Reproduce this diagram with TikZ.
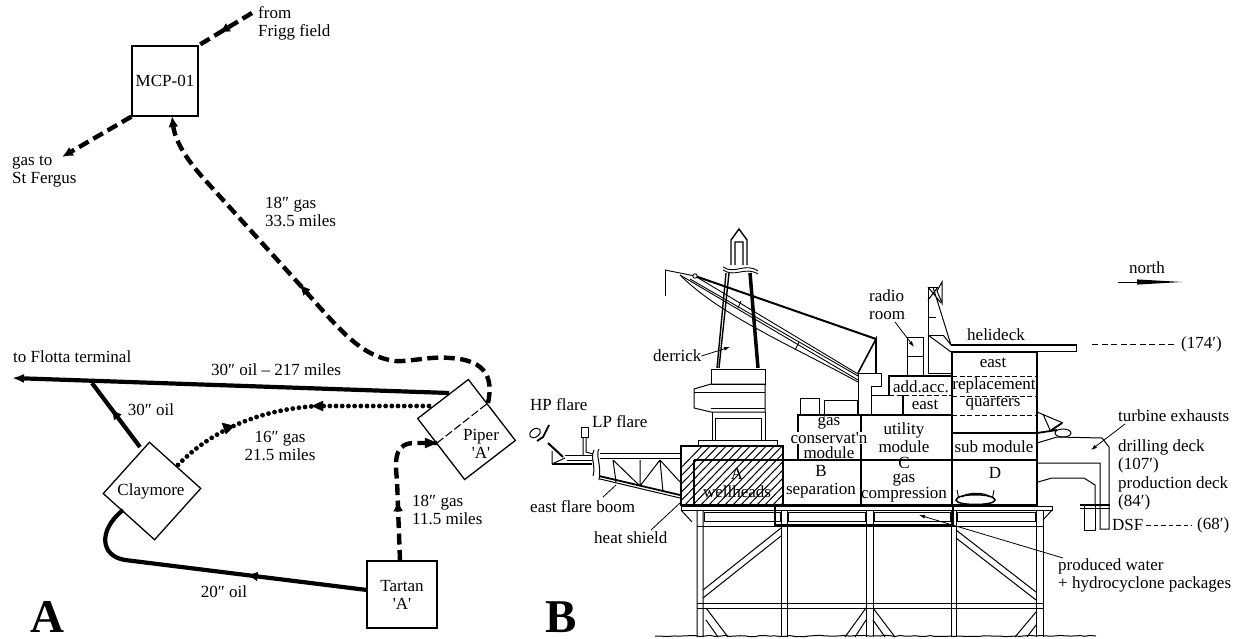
\documentclass[tikz,border=0pt]{standalone}
\usepackage{fontspec}
\setmainfont{Liberation Serif}
\usetikzlibrary{arrows.meta,decorations.markings,decorations.pathmorphing}
\tikzset{
  lbl/.style={inner sep=0pt,align=center,font=\fontsize{17}{18}\selectfont},
  lbll/.style={inner sep=0pt,align=left,anchor=west,font=\fontsize{17}{18}\selectfont},
  big/.style={inner sep=0pt,font=\fontsize{47}{47}\selectfont\bfseries},
  stn/.style={draw,line width=1.3pt,inner sep=0pt,font=\fontsize{17}{18}\selectfont,align=center},
  oilpipe/.style={line width=4.2pt},
  gaspipe/.style={line width=4.4pt,dash pattern=on 11pt off 5.5pt},
  dotpipe/.style={line width=4.8pt,line cap=round,dash pattern=on 0pt off 6.2pt},
  tip/.style={decoration={markings,mark=at position #1 with {\arrow{Latex[length=11pt,width=10pt]}}},postaction={decorate}},
  thin line/.style={line width=1pt},
  mod/.style={line width=1.5pt},
  lead/.style={line width=.8pt},
  leadtip/.style={line width=.8pt,-{Latex[length=6pt,width=4pt]}}
}
\begin{document}
\begin{tikzpicture}[x=1pt,y=-1pt]
\useasboundingbox (0,0) rectangle (1237,639);
%%% PANEL A
\node[stn,minimum width=66pt,minimum height=70pt] (mcp) at (165,81) {MCP-01};
\node[stn,minimum width=69pt,minimum height=69pt,rotate=-42] (clay) at (152,491) {};
\node[lbl] (clayt) at (151,491) {Claymore};
\node[stn,minimum width=77pt,minimum height=64pt,rotate=-52.4] (piper) at (466.5,429.5) {};
\node[lbl] (pipert) at (481,444) {Piper\\\textquotesingle A\textquotesingle};
\node[stn,minimum width=70pt,minimum height=67pt] (tartan) at (402,594.5) {Tartan\\\textquotesingle A\textquotesingle};
\coordinate (frigg) at (252,13);
\coordinate (fergus) at (62,157);
\coordinate (flotta) at (12,378);
\coordinate (junc) at (92,383);
\coordinate (pipeA) at (449,393);
\coordinate (pipeB) at (433,406);
\coordinate (pipeC) at (437,443);
\coordinate (pipeD) at (488,403);
\coordinate (clayA) at (140,447);
\coordinate (clayB) at (178,465);
\coordinate (clayC) at (123,510);
\coordinate (tartW) at (367,590);
\coordinate (tartN) at (400,561);
\draw[gaspipe,tip=.62] (frigg) -- (mcp.north east);
\draw[gaspipe,-{Latex[length=11pt,width=10pt]}] (mcp.south west) -- (fergus);
\draw[gaspipe,tip=.54,-{Latex[length=11pt,width=10pt]}] (pipeD) .. controls (493,380) and (488,360) .. (450,358) .. controls (430,356) and (410,362) .. (395,361) .. controls (360,356) and (340,330) .. (300,285) -- (205,180) .. controls (185,158) and (175,140) .. (172,116);
\draw[oilpipe,-{Latex[length=12pt,width=9pt]}] (pipeA) -- (flotta);
\draw[oilpipe,tip=.6] (clayA) -- (junc);
\draw[dotpipe] (clayB) .. controls (205,437) and (250,410) .. (317,406) -- (pipeB);
\draw[fill] (312,406) -- (323,401) -- (323,411) -- cycle;
\draw[fill] (234,426) -- (222,423) -- (226,434) -- cycle;
\draw[gaspipe,tip=.4] (tartN) -- (397,480) .. controls (394,455) and (397,443) .. (415,443) -- (pipeC);
\draw[fill] (437,443) -- (425,438) -- (425,448) -- cycle;
\draw[line width=1.1pt,dash pattern=on 8pt off 3pt] (pipeC) -- (pipeD);
\draw[oilpipe,tip=.39] (tartW) -- (125,560) .. controls (100,556) and (98,530) .. (clayC);
\node[lbll] (t1) at (258,23) {from\\Frigg field};
\node[lbll] (t2) at (12,172) {gas to\\St Fergus};
\node[lbll] (t3) at (265,212) {18″ gas\\33.5 miles};
\node[lbll] (t4) at (13,357) {to Flotta terminal};
\node[lbl] (t5) at (276,370) {30″ oil -- 217 miles};
\node[lbl] (t6) at (151,410) {30″ oil};
\node[lbl] (t7) at (280,446) {16″ gas\\21.5 miles};
\node[lbll] (t8) at (412,510) {18″ gas\\11.5 miles};
\node[lbl] (t9) at (224,592) {20″ oil};
\node[big] (bigA) at (47,617) {A};
\node[big] (bigB) at (561,617) {B};
%%% PANEL B hatching
\begin{scope}
\clip (681,446) rectangle (783,505);
\foreach \h in {0,8,...,180} \draw[line width=1pt] (640+\h,510) -- (640+\h+68,440);
\end{scope}
%%% substructure
\begin{scope}[thin line]
\draw (681,506) rectangle (1052,510);
\draw (681,510) -- (692,522) (697,510) -- (697,637) (703,510) -- (703,637);
\draw (781,510) -- (781,637) (787,510) -- (787,637) (866,510) -- (866,637) (873,510) -- (873,637);
\draw (951,510) -- (951,637) (956,510) -- (956,637) (1036,510) -- (1036,637) (1043,510) -- (1043,637);
\draw (1052,510) -- (1043,520);
\foreach \a/\b in {703/781,787/866,873/951,956/1036} {
 \draw (\a+1,512) rectangle (\b-1,521);
 \draw (\a,526) -- (\b,526) (\a,603) -- (\b,603) (\a,608) -- (\b,608);
}
\draw (697,526) -- (703,526) (781,526) -- (787,526) (866,526) -- (873,526) (951,526) -- (956,526) (1036,526) -- (1043,526);
\draw (697,603) -- (703,603) (697,608) -- (703,608) (781,603) -- (787,603) (781,608) -- (787,608) (866,603) -- (873,603) (866,608) -- (873,608) (951,603) -- (956,603) (951,608) -- (956,608) (1036,603) -- (1043,603) (1036,608) -- (1043,608);
% braces
\draw (781,528) -- (703,590) (781,536) -- (703,598);
\draw (956,530) -- (1036,592) (956,538) -- (1036,600);
\draw (706,608) -- (728,637) (706,620) -- (718,637);
\draw (866,608) -- (845,637) (866,620) -- (855,637);
\draw (873,608) -- (895,637) (873,620) -- (885,637);
\draw (1036,612) -- (1015,637) (1036,625) -- (1027,637);
\end{scope}
\draw[mod] (775,505) -- (775,525) -- (953,525) -- (953,505);
\draw[thin line,decorate,decoration={random steps,segment length=5pt,amplitude=.6pt}] (655,636) -- (1096,636);
%%% modules
\begin{scope}[mod]
\draw (681,446) rectangle (783,505);
\draw (694,460) -- (694,505);
\draw (694,460) -- (1036,460);
\draw (694,505) -- (1038,505);
\draw (783,460) -- (783,505) (861,415) -- (861,505) (952,352) -- (952,505) (1037,352) -- (1037,505);
\draw (798,460) -- (798,415) -- (952,415);
\draw (952,433) -- (1037,433) (952,352) -- (1037,352);
\draw (903,395) -- (903,415) (889,395) -- (889,376) -- (952,376);
\end{scope}
\begin{scope}[line width=.9pt,dash pattern=on 5pt off 2.5pt]
\draw (952,376) -- (1037,376) (952,396) -- (1037,396) (952,415) -- (1037,415);
\draw (889,395) -- (952,395);
\end{scope}
%%% helideck
\draw[line width=1.5pt] (951,345) -- (1077,345);
\draw[thin line] (951,351) -- (1076,351) -- (1076,345);
\draw[thin line,dash pattern=on 6pt off 3.5pt] (1092,344) -- (1177,344);
%%% upper small blocks
\begin{scope}[thin line]
\draw (800,415) -- (800,398) -- (819,398) -- (819,415);
\draw (824,415) -- (824,400) -- (857,400) -- (857,415);
\draw (858,415) -- (858,373) -- (881,373) -- (881,386) -- (871,386) -- (871,415);
\draw (871,395) -- (889,395);
\draw (907,376) -- (907,337) -- (923,337) -- (923,376) (907,356) -- (923,356);
% mast
\draw (928,287) -- (928,373) -- (951,373) (928,287) -- (937,287) (928,335) -- (943,335) (928,317) -- (936,317);
\draw (933,287) -- (951,345) (928,287) -- (941,303) (928,300) -- (938,287);
\draw (937,291) -- (942,282) -- (942,303) -- cycle;
\draw (928,335) -- (951,352) (943,335) -- (951,345);
\end{scope}
%%% crane
\draw[line width=2pt] (695,276) -- (876,339);
\draw[line width=1.6pt] (858,373) -- (876,339) -- (876,373);
\draw[line width=.9pt] (665,270) -- (695,276);
\draw[line width=.9pt] (665,270) -- (665,296);
\draw[line width=.9pt] (680,275) -- (858,380) (690,279) -- (858,376) (695,276) -- (858,374);
\draw[line width=.9pt] (680,275) .. controls (720,315) and (790,345) .. (858,382);
\draw[line width=.9pt] (738,308) -- (741,301) (795,350) -- (799,342);
\draw[line width=.9pt,fill=white] (695,276) circle (2.2pt);
%%% derrick
\draw[line width=1.4pt] (726,273) -- (717,368) (729,273) -- (719,368);
\draw[line width=3.5pt] (750,273) -- (758,368);
\draw[line width=1.4pt] (731,265) -- (731,240) -- (739,229) -- (747,240) -- (747,265) (735,265) -- (735,242) -- (743,242) -- (743,265);
\draw[line width=.9pt] (723,267) .. controls (735,275) and (745,262) .. (758,271);
\draw[line width=.9pt] (723,270) .. controls (735,278) and (745,266) .. (758,274);
\draw[thin line] (711,384) rectangle (765,369);
\draw[thin line] (765,384) -- (711,384) -- (694,389) -- (694,408) -- (711,412) -- (765,412) -- (765,384);
\draw[thin line] (694,392) -- (765,392) (711,408) -- (765,408);
\draw[thin line] (712,412) -- (712,440) (765,412) -- (765,440) (715,440) -- (715,418) -- (761,418) -- (761,440);
\draw[thin line] (698,446) -- (698,440) -- (777,440) -- (777,446);
%%% flare boom
\begin{scope}[thin line]
\draw (600,453) -- (681,453) (600,458) -- (681,458);
\draw (599,449) .. controls (595,455) and (602,465) .. (599,480);
\draw (594,450) .. controls (590,458) and (596,465) .. (593,476);
\draw[line width=2pt] (552,464) -- (592,464);
\draw (565,455) -- (593,455) (567,460) -- (593,460);
\draw (552,464) -- (552,451) (552,464) -- (565,458);
\draw (581,427) rectangle (588,437);
\draw (583,437) -- (583,455) (586,437) -- (586,452) -- (593,454);
\draw[line width=2pt] (548,443) -- (563,457);
\draw[line width=1.8pt] (537,441) -- (543,437) -- (549,425);
\draw[fill=white,rotate around={35:(535,433)}] (535,433) ellipse (6pt and 4pt);
\draw[line width=1.8pt] (599,476) -- (680,495);
\draw (600,479) -- (680,498);
\draw (613,460) -- (616,482) (613,460) -- (640,486) (640,486) -- (640,460) (640,486) -- (660,460) (660,460) -- (663,492) (660,460) -- (680,482);
\end{scope}
%%% exhausts
\begin{scope}[thin line]
\draw (1037,412) -- (1063,423) (1043,414) -- (1050,430);
\draw[line width=1.8pt] (1037,433) -- (1057,430) (1050,431) -- (1062,423);
\draw (1063,433) ellipse (8pt and 4pt);
\draw (1037,443) -- (1057,437) -- (1102,438) -- (1109,447) -- (1109,529) -- (1100,529) -- (1100,463) -- (1038,463);
\draw (1038,482) -- (1052,478) -- (1084,478) -- (1095,485) -- (1095,505);
\draw (1084,506) -- (1084,530) -- (1095,530) -- (1095,506);
\draw[line width=1.6pt] (1080,505) -- (1110,505);
\draw (1080,508) -- (1110,508);
\draw[line width=.9pt] (959,500) -- (957,490) (992,500) -- (994,490);
\draw[line width=1.5pt,fill=white] (956,500) .. controls (956,493) and (995,493) .. (995,500) .. controls (995,506) and (956,506) .. (956,500) -- cycle;
\draw (962,497) .. controls (966,492) and (986,492) .. (990,497);
\end{scope}
\draw[thin line,dash pattern=on 4.5pt off 3pt] (1146,525) -- (1192,525);
%%% north
\coordinate (n1) at (1118,282);
\coordinate (n2) at (1137,282);
\coordinate (n3) at (1182,282);
\draw[thin line] (n1) -- (n2);
\fill (1137,279.4) -- (n3) -- (1137,284.6) -- cycle;
%%% labels
\node[lbl] (n) at (1147,268) {north};
\node[lbll] (a1) at (1181,344) {(174′)};
\node[lbl] (a2) at (996,335) {helideck};
\node[lbl] (a3) at (993,363) {east};
\node[lbl] (a4) at (994,385) {replacement};
\node[lbl] (a5) at (993,404) {quarters};
\node[lbl] (a6) at (921,387) {add.acc.};
\node[lbl] (a7) at (925,405) {east};
\node[lbl] (a8) at (904,438) {utility\\module};
\node[lbl] (a9a) at (829,423) {gas};
\node[lbl,fill=white] (a9b) at (829,438) {conservat\textquotesingle n};
\node[lbl] (a9c) at (829,453) {module};
\node[lbl] (a10) at (994,447) {sub module};
\node[lbl] (a11) at (737,483) {A\\wellheads};
\node[lbl] (a12) at (821,482) {B\\separation};
\node[lbl,font=\fontsize{17}{14}\selectfont] (a13) at (904,480) {C\\gas\\compression};
\node[lbl] (a14) at (995,473) {D};
\node[lbll] (b1) at (653,356) {derrick};
\node[lbll] (b2) at (530,405) {HP flare};
\node[lbll] (b3) at (592,422) {LP flare};
\node[lbll] (b4) at (530,507) {east flare boom};
\node[lbll] (b5) at (594,538) {heat shield};
\node[lbll] (b6) at (1058,575) {produced water\\+ hydrocyclone packages};
\node[lbll] (b7) at (869,305) {radio\\room};
\node[lbll] (b8) at (1118,416) {turbine exhausts};
\node[lbll] (b9) at (1118,456) {drilling deck\\(107′)};
\node[lbll] (b10) at (1118,493) {production deck\\(84′)};
\node[lbll] (b11) at (1112,525) {DSF};
\node[lbll] (b12) at (1197,525) {(68′)};
%%% leaders
\coordinate (c1) at (730,347);
\coordinate (c2) at (914,347);
\coordinate (c3) at (1091,450);
\coordinate (c4) at (616,485);
\coordinate (c5) at (680,503);
\coordinate (c6) at (919,515);
\draw[leadtip] (b1.east) -- (c1);
\draw[leadtip] (895,322) -- (c2);
\draw[leadtip] (1125,424) -- (c3);
\draw[lead] (603,497) -- (c4);
\draw[lead] (651,530) -- (c5);
\draw[leadtip] (1063,558) -- (c6);
\end{tikzpicture}
\end{document}
